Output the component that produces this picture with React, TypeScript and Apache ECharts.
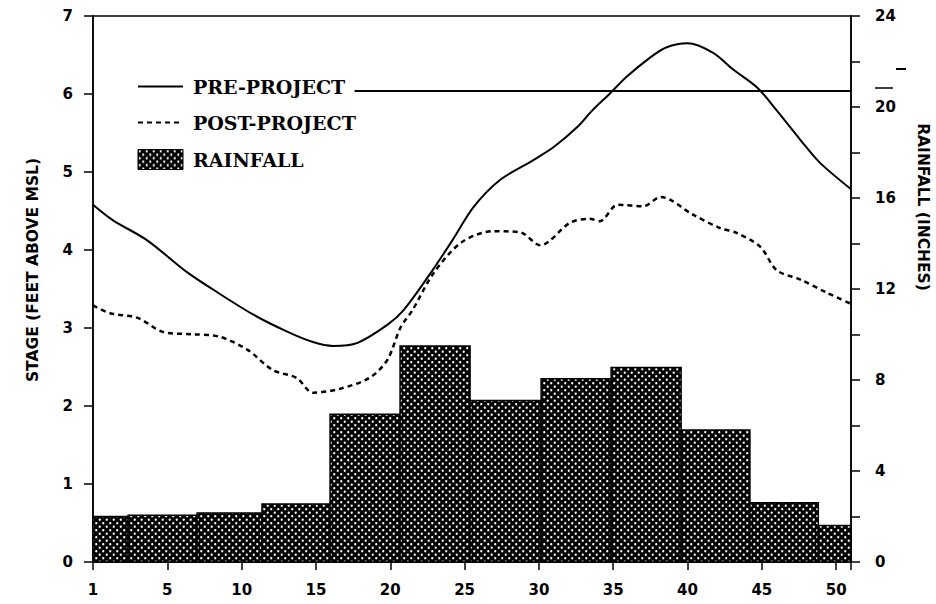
import React, { useEffect, useRef } from "react";
import * as echarts from "echarts";

// x axis: week position (origin labelled "1")
const xTicks = [0, 5, 10, 15, 20, 25, 30, 35, 40, 45, 50];
const xTickLabels = ["1", "5", "10", "15", "20", "25", "30", "35", "40", "45", "50"];

// rainfall histogram: bin edges (week position) and rainfall (inches)
const rainEdges = [0, 2.36, 7.0, 11.37, 15.95, 20.66, 25.37, 30.15, 34.86, 39.57, 44.2, 48.8, 51];
const rainfall = [2.0, 2.05, 2.15, 2.55, 6.5, 9.5, 7.1, 8.05, 8.55, 5.8, 2.6, 1.6];

// pre-project stage (feet above MSL)
const preWeek = [0, 1.35, 3.6, 6.3, 8.1, 10.8, 13.1, 14.8, 16.15, 17.8, 19.8, 20.9, 22.7, 24.2, 25.6, 27.4, 29.6, 31.0, 32.6, 33.6, 34.8, 35.9, 37.5, 38.6, 40.0, 41.7, 43.1, 44.7, 46.0, 47.6, 48.9, 51];
const preStage = [4.58, 4.38, 4.13, 3.72, 3.49, 3.17, 2.95, 2.82, 2.77, 2.81, 3.04, 3.23, 3.7, 4.13, 4.55, 4.9, 5.15, 5.32, 5.58, 5.79, 6.01, 6.22, 6.47, 6.6, 6.65, 6.53, 6.31, 6.08, 5.79, 5.41, 5.12, 4.78];

// post-project stage (feet above MSL)
const postWeek = [0, 1.15, 3.0, 4.7, 6.7, 8.5, 10.4, 12.1, 13.7, 14.8, 16.6, 18.6, 19.8, 20.7, 21.5, 22.9, 24.8, 26.9, 28.7, 30.1, 32.1, 33.4, 34.1, 35.3, 37.0, 38.2, 40.4, 42.2, 43.3, 44.9, 46.0, 47.6, 49.4, 51];
const postStage = [3.29, 3.19, 3.13, 2.95, 2.92, 2.89, 2.72, 2.46, 2.36, 2.17, 2.22, 2.36, 2.59, 3.01, 3.23, 3.7, 4.1, 4.24, 4.23, 4.06, 4.35, 4.4, 4.37, 4.58, 4.56, 4.68, 4.45, 4.28, 4.22, 4.04, 3.74, 3.62, 3.45, 3.31];

// stray scan line next to the legend (stage level, week span)
const strayLineStage = 6.04;
const strayLineFrom = 17.6;
const strayLineTo = 51;

function makePattern() {
  const c = document.createElement("canvas");
  const s = 7;
  c.width = s;
  c.height = s;
  const ctx = c.getContext("2d")!;
  ctx.fillStyle = "#000";
  ctx.fillRect(0, 0, s, s);
  ctx.fillStyle = "#fff";
  const dots = [
    [1.75, 1.75],
    [5.25, 5.25],
  ];
  for (const [x, y] of dots) {
    ctx.beginPath();
    ctx.arc(x, y, 1.15, 0, Math.PI * 2);
    ctx.fill();
  }
  return { image: c, repeat: "repeat" as const, imageWidth: s, imageHeight: s };
}

export default function App() {
  const ref = useRef<HTMLDivElement>(null);
  useEffect(() => {
    if (!ref.current) return;
    const chart = echarts.init(ref.current, undefined, { renderer: "svg" });
    const pattern = makePattern();
    const rainData = rainfall.map((v, i) => [rainEdges[i], rainEdges[i + 1], v]);
    const tickFont = { fontFamily: "DejaVu Sans", fontWeight: "bold" as const, fontSize: 15, color: "#000" };
    const legendFont = { fontFamily: "DejaVu Serif", fontWeight: "bold" as const, fontSize: 19, color: "#000" };

    chart.setOption({
      animation: false,
      backgroundColor: "#fff",
      grid: { left: 93, right: 85, top: 16, bottom: 42, show: true, borderColor: "#000", borderWidth: 1.5, backgroundColor: "transparent" },
      legend: {
        orient: "vertical",
        left: 132,
        top: 72,
        itemWidth: 45,
        itemHeight: 20,
        itemGap: 17,
        textStyle: { ...legendFont, padding: [0, 0, 0, 5] },
        data: [
          { name: "PRE-PROJECT", itemStyle: { opacity: 0 } },
          { name: "POST-PROJECT", itemStyle: { opacity: 0 } },
          { name: "RAINFALL", icon: "rect", itemStyle: { color: pattern, borderColor: "#000", borderWidth: 1 } },
        ],
      },
      xAxis: {
        type: "value",
        min: 0,
        max: 51,
        interval: 5,
        splitLine: { show: false },
        axisLine: { lineStyle: { color: "#000", width: 2 } },
        axisTick: { inside: false, length: 8, lineStyle: { color: "#000", width: 1.5 } },
        showMaxLabel: false,
        axisLabel: {
          ...tickFont,
          margin: 20,
          formatter: (v: number) => {
            const i = xTicks.indexOf(v);
            return i >= 0 ? xTickLabels[i] : "";
          },
        },
      },
      yAxis: [
        {
          type: "value",
          min: 0,
          max: 7,
          interval: 1,
          position: "left",
          splitLine: { show: false },
          axisLine: { show: true, lineStyle: { color: "#000", width: 1.5 } },
          axisTick: { show: true, length: 9, lineStyle: { color: "#000", width: 1.5 } },
          axisLabel: { ...tickFont, margin: 20 },
        },
        {
          type: "value",
          min: 0,
          max: 24,
          interval: 4,
          position: "right",
          splitLine: { show: false },
          axisLine: { show: true, lineStyle: { color: "#000", width: 1.5 } },
          axisTick: { show: true, length: 9, lineStyle: { color: "#000", width: 1.5 } },
          minorTick: { show: true, splitNumber: 2, length: 9, lineStyle: { color: "#000", width: 1.5 } },
          axisLabel: { ...tickFont, margin: 24 },
        },
      ],
      graphic: [
        {
          type: "text",
          x: 33,
          y: 270,
          rotation: Math.PI / 2,
          style: { text: "STAGE (FEET ABOVE MSL)", ...tickFont, fontSize: 15.5, fill: "#000", align: "center", verticalAlign: "middle" },
        },
        {
          type: "text",
          x: 923,
          y: 207,
          rotation: -Math.PI / 2,
          style: { text: "RAINFALL (INCHES)", ...tickFont, fontSize: 15.5, fill: "#000", align: "center", verticalAlign: "middle" },
        },
        { type: "line", shape: { x1: 896, y1: 69, x2: 906, y2: 69 }, style: { stroke: "#000", lineWidth: 2 } },
        { type: "line", shape: { x1: 875, y1: 88, x2: 893, y2: 88 }, style: { stroke: "#000", lineWidth: 1.5 } },
      ],
      series: [
        {
          name: "RAINFALL",
          type: "custom",
          xAxisIndex: 0,
          yAxisIndex: 1,
          z: 1,
          itemStyle: { color: pattern },
          encode: { x: [0, 1], y: 2 },
          data: rainData,
          renderItem: (params: any, api: any) => {
            const p0 = api.coord([api.value(0), api.value(2)]);
            const p1 = api.coord([api.value(1), 0]);
            return {
              type: "rect",
              shape: { x: p0[0], y: p0[1], width: p1[0] - p0[0], height: p1[1] - p0[1] },
              style: { fill: pattern, stroke: "#000", lineWidth: 1.5 },
            };
          },
        },
        {
          name: "PRE-PROJECT",
          type: "line",
          yAxisIndex: 0,
          z: 3,
          smooth: 0.3,
          symbol: "none",
          lineStyle: { color: "#000", width: 2 },
          itemStyle: { color: "#000" },
          data: preWeek.map((w, i) => [w, preStage[i]]),
          markLine: {
            silent: true,
            symbol: "none",
            label: { show: false },
            lineStyle: { color: "#000", width: 2, type: "solid" },
            data: [[{ coord: [strayLineFrom, strayLineStage] }, { coord: [strayLineTo, strayLineStage] }]],
          },
        },
        {
          name: "POST-PROJECT",
          type: "line",
          yAxisIndex: 0,
          z: 3,
          smooth: 0.3,
          symbol: "none",
          lineStyle: { color: "#000", width: 2.5, type: [5, 4] },
          itemStyle: { color: "#000" },
          data: postWeek.map((w, i) => [w, postStage[i]]),
        },
      ],
    });
    return () => chart.dispose();
  }, []);
  return <div ref={ref} style={{ position: "absolute", left: 0, top: 0, width: 936, height: 604 }} />;
}
